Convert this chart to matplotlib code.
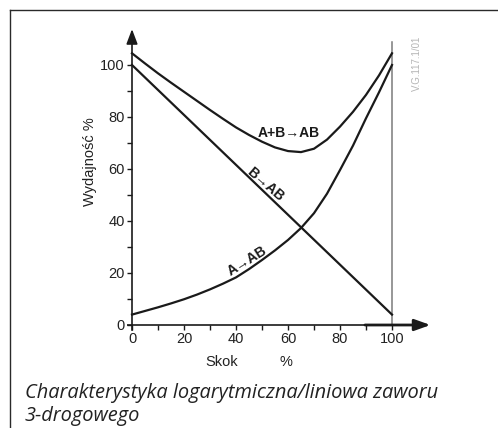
import numpy as np
import matplotlib
matplotlib.use("Agg")
import matplotlib.pyplot as plt
from matplotlib.lines import Line2D

# values (Skok %, Wydajność %)
skok = [0, 5, 10, 15, 20, 25, 30, 35, 40, 45, 50, 55, 60, 65, 70, 75, 80, 85, 90, 95, 100]
a_ab = [4, 5.4, 6.8, 8.3, 9.9, 11.7, 13.7, 15.9, 18.3, 21.5, 25, 28.7, 32.7,
        37.3, 43, 50.5, 59.6, 69, 79.5, 89.5, 100]
ab_ab = [104.5, 100.6, 96.8, 93.2, 89.7, 86.2, 82.7, 79.3, 76, 73.1, 70.5, 68.3,
         66.9, 66.5, 67.8, 71.3, 76.3, 82, 88.5, 96, 104.5]
b_skok = [0, 100]
b_ab = [100, 4]

xticks = [0, 20, 40, 60, 80, 100]
yticks = [0, 20, 40, 60, 80, 100]

plt.rcParams["font.family"] = ["Liberation Sans", "DejaVu Sans"]

W, H = 498, 428
fig = plt.figure(figsize=(W / 100, H / 100), dpi=100)
ax = fig.add_axes([132 / W, 1 - 325 / H, 260 / W, 260 / H])
ax.set_xlim(0, 100)
ax.set_ylim(0, 100)
for s in ax.spines.values():
    s.set_visible(False)

txt = "#222222"
ink = "#1a1a1a"

ax.set_xticks(xticks)
ax.set_xticks(range(10, 100, 20), minor=True)
ax.set_yticks(yticks)
ax.set_yticks(range(10, 100, 20), minor=True)
ax.tick_params(which="both", direction="out", length=3.6, width=1.0, color=ink,
               labelsize=10.5, labelcolor=txt, pad=1.5)

# axes with arrows
ax.plot([-2, 90], [0, 0], color=ink, lw=1.2, clip_on=False, solid_capstyle="butt")
ax.annotate("", xy=(114.8, 0), xytext=(89.6, 0), annotation_clip=False,
            arrowprops=dict(arrowstyle="-|>,head_length=0.95,head_width=0.34",
                            color=ink, lw=2.0, shrinkA=0, shrinkB=0))
ax.annotate("", xy=(0, 113.8), xytext=(0, -2), annotation_clip=False,
            arrowprops=dict(arrowstyle="-|>,head_length=0.9,head_width=0.34",
                            color=ink, lw=1.2, shrinkA=0, shrinkB=0))
ax.plot([100, 100], [0, 109], color="#7a7a7a", lw=1.1, clip_on=False)

# curves
ax.plot(skok, ab_ab, color=ink, lw=1.6, clip_on=False, solid_joinstyle="round")
ax.plot(b_skok, b_ab, color=ink, lw=1.6, clip_on=False)
ax.plot(skok, a_ab, color=ink, lw=1.6, clip_on=False, solid_joinstyle="round")

lab_font = dict(fontsize=10, fontweight="bold", color=ink,
                family=["Liberation Sans Narrow", "Liberation Sans", "DejaVu Sans"],
                ha="center", va="center")
ax.text(60.1, 74.0, "A+B\u2192AB", **lab_font)
ax.text(51.4, 54.2, "B\u2192AB", rotation=-41, **lab_font)
ax.text(44.1, 24.7, "A\u2192AB", rotation=32, **lab_font)

ax.text(109.6, 100.8, "V.G.117.1/01", rotation=90, fontsize=7, color="#b5b5b5",
        ha="center", va="center")

ax.text(-16.2, 63, "Wydajność %", rotation=90, fontsize=10.5, color=txt,
        ha="center", va="center")
ax.text(34.6, -14.2, "Skok", fontsize=10.5, color=txt, ha="center", va="center")
ax.text(59.2, -14.2, "%", fontsize=10.5, color=txt, ha="center", va="center")

# caption
cap = dict(fontsize=14.4, style="italic", color=txt, family="Open Sans",
           ha="left", va="baseline")
fig.text(25 / W, 1 - 398 / H, "Charakterystyka logarytmiczna/liniowa zaworu", **cap)
fig.text(25 / W, 1 - 421 / H, "3-drogowego", **cap)

# frame (left and top only)
fx, fy = 10 / W, 1 - 10 / H
fig.add_artist(Line2D([fx, fx], [0, fy], color="#2a2a2a", lw=1.0, transform=fig.transFigure))
fig.add_artist(Line2D([fx, 1], [fy, fy], color="#2a2a2a", lw=1.0, transform=fig.transFigure))

fig.savefig("out.png", dpi=100)
